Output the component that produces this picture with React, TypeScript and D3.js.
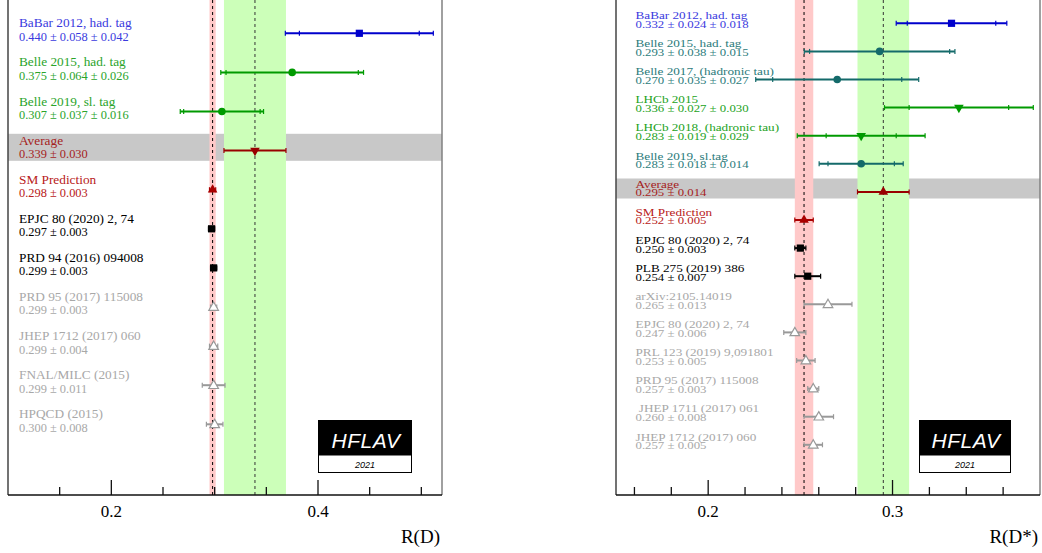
import React from "react";
import * as d3 from "d3";

// ---------- R(D) data ----------
const rdLabels = [
  "BaBar 2012, had. tag",
  "Belle 2015, had. tag",
  "Belle 2019, sl. tag",
  "Average",
  "SM Prediction",
  "EPJC 80 (2020) 2, 74",
  "PRD 94 (2016) 094008",
  "PRD 95 (2017) 115008",
  "JHEP 1712 (2017) 060",
  "FNAL/MILC (2015)",
  "HPQCD (2015)",
];
const rdValues = [0.44, 0.375, 0.307, 0.339, 0.298, 0.297, 0.299, 0.299, 0.299, 0.299, 0.3];
const rdStat = [0.058, 0.064, 0.037, 0.03, 0.003, 0.003, 0.003, 0.003, 0.004, 0.011, 0.008];
const rdSyst: (number | null)[] = [0.042, 0.026, 0.016, null, null, null, null, null, null, null, null];
const rdGroups = ["babar", "belle", "belle", "avg", "sm", "theory", "theory", "old", "old", "old", "old"];
const rdTicksMajor = [0.2, 0.4];
const rdTicksMinor = [0.15, 0.25, 0.3, 0.35, 0.45, 0.5];

// ---------- R(D*) data ----------
const rdsLabels = [
  "BaBar 2012, had. tag",
  "Belle 2015, had. tag",
  "Belle 2017, (hadronic tau)",
  "LHCb 2015",
  "LHCb 2018, (hadronic tau)",
  "Belle 2019, sl.tag",
  "Average",
  "SM Prediction",
  "EPJC 80 (2020) 2, 74",
  "PLB 275 (2019) 386",
  "arXiv:2105.14019",
  "EPJC 80 (2020) 2, 74",
  "PRL 123 (2019) 9,091801",
  "PRD 95 (2017) 115008",
  " JHEP 1711 (2017) 061",
  "JHEP 1712 (2017) 060",
];
const rdsValues = [0.332, 0.293, 0.27, 0.336, 0.283, 0.283, 0.295, 0.252, 0.25, 0.254, 0.265, 0.247, 0.253, 0.257, 0.26, 0.257];
const rdsStat = [0.024, 0.038, 0.035, 0.027, 0.019, 0.018, 0.014, 0.005, 0.003, 0.007, 0.013, 0.006, 0.005, 0.003, 0.008, 0.005];
const rdsSyst: (number | null)[] = [0.018, 0.015, 0.027, 0.03, 0.029, 0.014, null, null, null, null, null, null, null, null, null, null];
const rdsGroups = ["babar", "belleT", "belleT", "lhcb", "lhcb", "belleT", "avg", "sm", "theory", "theory", "old", "old", "old", "old", "old", "old"];
const rdsTicksMajor = [0.2, 0.3];
const rdsTicksMinor = [0.16, 0.18, 0.22, 0.24, 0.26, 0.28, 0.32, 0.34, 0.36];

const logoTitle = "HFLAV";
const logoYear = "2021";

const STYLE: Record<string, { text: string; mark: string; shape: string }> = {
  babar: { text: "#3a3ade", mark: "#0000cc", shape: "square" },
  belle: { text: "#2aa42a", mark: "#009a00", shape: "circle" },
  belleT: { text: "#2b7b7b", mark: "#146a6a", shape: "circle" },
  lhcb: { text: "#22a222", mark: "#009a00", shape: "down" },
  avg: { text: "#a52222", mark: "#990000", shape: "down" },
  sm: { text: "#b82020", mark: "#aa0000", shape: "up" },
  theory: { text: "#000000", mark: "#000000", shape: "square" },
  old: { text: "#a8a8a8", mark: "#999999", shape: "open" },
};

const SERIF = "'Liberation Serif', 'Times New Roman', serif";
const SANS = "'Liberation Sans', Arial, sans-serif";

type PanelProps = {
  labels: string[];
  values: number[];
  stat: number[];
  syst: (number | null)[];
  groups: string[];
  ticksMajor: number[];
  ticksMinor: number[];
  domain: [number, number];
  x0: number;
  x1: number;
  yFirst: number;
  step: number;
  textX: number;
  l1dy: number;
  l2dy: number;
  textScaleY: number;
  f1: number;
  f2: number;
  bandTop: number;
  bandBot: number;
  avgShape: string;
  title: string;
  logoX: number;
  logoW: number;
  tickFmt: (v: number) => string;
};

function Marker({ shape, color, x, y }: { shape: string; color: string; x: number; y: number }) {
  if (shape === "circle") return <circle cx={x} cy={y} r={3.8} fill={color} />;
  if (shape === "square")
    return <path d={d3.symbol().type(d3.symbolSquare).size(52)() as string} transform={`translate(${x},${y})`} fill={color} />;
  if (shape === "up")
    return <path d={d3.symbol().type(d3.symbolTriangle).size(40)() as string} transform={`translate(${x},${y})`} fill={color} />;
  if (shape === "down")
    return (
      <path d={d3.symbol().type(d3.symbolTriangle).size(40)() as string} transform={`translate(${x},${y}) rotate(180)`} fill={color} />
    );
  return (
    <path
      d={d3.symbol().type(d3.symbolTriangle).size(40)() as string}
      transform={`translate(${x},${y + 0.5})`}
      fill="#ffffff"
      stroke={color}
      strokeWidth={1.2}
    />
  );
}

function Panel(p: PanelProps) {
  const n = p.labels.length;
  const x = d3.scaleLinear().domain(p.domain).range([p.x0, p.x1]);
  const y = d3.scaleLinear().domain([0, n - 1]).range([p.yFirst, p.yFirst + p.step * (n - 1)]);
  const axisY = 495;
  const avgI = p.groups.indexOf("avg");
  const smI = p.groups.indexOf("sm");
  const avg = p.values[avgI];
  const avgE = p.stat[avgI];
  const sm = p.values[smI];
  const smE = p.stat[smI];

  return (
    <g>
      {/* average grey band */}
      <rect x={p.x0} y={y(avgI) - p.bandTop} width={p.x1 - p.x0} height={p.bandTop + p.bandBot} fill="#c8c8c8" />
      {/* SM band */}
      <rect x={x(sm - smE)} y={0} width={x(sm + smE) - x(sm - smE)} height={axisY} fill="#ffc9c9" />
      {/* average band */}
      <rect x={x(avg - avgE)} y={0} width={x(avg + avgE) - x(avg - avgE)} height={axisY} fill="#ccffb9" />
      <line x1={x(sm)} x2={x(sm)} y1={0} y2={axisY} stroke="#000" strokeWidth={1} strokeDasharray="3,3" />
      <line x1={x(avg)} x2={x(avg)} y1={0} y2={axisY} stroke="#333" strokeWidth={1} strokeDasharray="3,3" />

      {/* rows */}
      {p.labels.map((lab, i) => {
        const st = STYLE[p.groups[i]];
        const shape = p.groups[i] === "avg" ? p.avgShape : st.shape;
        const v = p.values[i];
        const s = p.stat[i];
        const sy = p.syst[i];
        const tot = sy == null ? s : Math.sqrt(s * s + sy * sy);
        const yy = y(i);
        const tickXs = sy == null ? [v - s, v + s] : [v - tot, v - s, v + s, v + tot];
        const line2 =
          sy == null
            ? `${v.toFixed(3)} \u00b1 ${s.toFixed(3)}`
            : `${v.toFixed(3)} \u00b1 ${s.toFixed(3)} \u00b1 ${sy.toFixed(3)}`;
        return (
          <g key={i}>
            <text
              transform={`translate(${p.textX},${yy + p.l1dy}) scale(1,${p.textScaleY})`}
              fontFamily={SERIF}
              fontSize={p.f1}
              fill={st.text}
              style={{ whiteSpace: "pre" }}
            >
              {lab}
            </text>
            <text
              transform={`translate(${p.textX},${yy + p.l2dy}) scale(1,${p.textScaleY})`}
              fontFamily={SERIF}
              fontSize={p.f2}
              fill={st.text}
            >
              {line2}
            </text>
            <line x1={x(v - tot)} x2={x(v + tot)} y1={yy} y2={yy} stroke={st.mark} strokeWidth={2} />
            {tickXs.map((t, k) => (
              <line key={k} x1={x(t)} x2={x(t)} y1={yy - 2.5} y2={yy + 2.5} stroke={st.mark} strokeWidth={1.2} />
            ))}
            <Marker shape={shape} color={st.mark} x={x(v)} y={yy} />
          </g>
        );
      })}

      {/* frame */}
      <line x1={p.x0} x2={p.x0} y1={0} y2={axisY} stroke="#444" strokeWidth={1.5} />
      <line x1={p.x1} x2={p.x1} y1={0} y2={axisY} stroke="#808080" strokeWidth={1.5} />
      <line x1={p.x0} x2={p.x1} y1={axisY} y2={axisY} stroke="#111" strokeWidth={1.5} />
      {p.ticksMajor.map((t) => (
        <g key={"M" + t}>
          <line x1={x(t)} x2={x(t)} y1={axisY} y2={axisY - 15} stroke="#111" strokeWidth={1.3} />
          <text x={x(t)} y={517} textAnchor="middle" fontFamily={SERIF} fontSize={17} fill="#000">
            {p.tickFmt(t)}
          </text>
        </g>
      ))}
      {p.ticksMinor.map((t) => (
        <line key={"m" + t} x1={x(t)} x2={x(t)} y1={axisY} y2={axisY - 8} stroke="#111" strokeWidth={1.3} />
      ))}
      <text x={p.x1 - 2} y={543} textAnchor="end" fontFamily={SERIF} fontSize={19} fill="#000">
        {p.title}
      </text>

      {/* logo */}
      <rect x={p.logoX} y={420} width={p.logoW} height={35} fill="#000" />
      <rect x={p.logoX + 0.5} y={455} width={p.logoW - 1} height={17.5} fill="#fff" stroke="#000" strokeWidth={1} />
      <text
        x={p.logoX + p.logoW / 2 + 1}
        y={447.5}
        textAnchor="middle"
        fontFamily={SANS}
        fontStyle="italic"
        fontSize={21}
        fill="#fff"
        letterSpacing={0.5}
      >
        {logoTitle}
      </text>
      <text x={p.logoX + p.logoW / 2} y={468} textAnchor="middle" fontFamily={SANS} fontStyle="italic" fontSize={9} fill="#000">
        {logoYear}
      </text>
    </g>
  );
}

export default function App() {
  return (
    <svg width={1042} height={553} style={{ position: "absolute", left: 0, top: 0, background: "#fff" }}>
      <rect x={0} y={0} width={1042} height={553} fill="#fff" />
      <Panel
        labels={rdLabels}
        values={rdValues}
        stat={rdStat}
        syst={rdSyst}
        groups={rdGroups}
        ticksMajor={rdTicksMajor}
        ticksMinor={rdTicksMinor}
        domain={[0.1, 0.52]}
        x0={8}
        x1={442}
        yFirst={33.3}
        step={39.1}
        textX={19}
        l1dy={-6}
        l2dy={7.4}
        textScaleY={1}
        f1={13.3}
        f2={12.4}
        bandTop={16.8}
        bandBot={10.2}
        avgShape="down"
        title="R(D)"
        logoX={318}
        logoW={94}
        tickFmt={(v) => d3.format(".1f")(v)}
      />
      <Panel
        labels={rdsLabels}
        values={rdsValues}
        stat={rdsStat}
        syst={rdsSyst}
        groups={rdsGroups}
        ticksMajor={rdsTicksMajor}
        ticksMinor={rdsTicksMinor}
        domain={[0.15, 0.38]}
        x0={616}
        x1={1040}
        yFirst={23.3}
        step={28.1}
        textX={635.5}
        l1dy={-4.3}
        l2dy={4.4}
        textScaleY={0.82}
        f1={13.2}
        f2={12.8}
        bandTop={13.4}
        bandBot={6.6}
        avgShape="up"
        title="R(D*)"
        logoX={919}
        logoW={92}
        tickFmt={(v) => d3.format(".1f")(v)}
      />
    </svg>
  );
}
